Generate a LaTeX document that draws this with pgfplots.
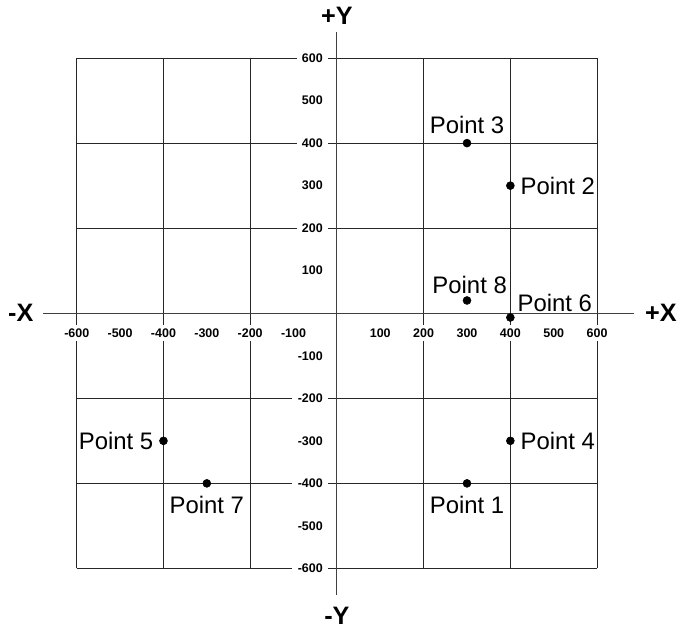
\documentclass[border=0pt]{standalone}
\usepackage{fontspec}
\setmainfont{Liberation Sans}
\usepackage{pgfplots}
\pgfplotsset{compat=1.18}
\usepackage{pgfplotstable}

\pgfplotstableread[col sep=comma]{
x,y,label
300,-400,Point 1
400,300,Point 2
300,400,Point 3
400,-300,Point 4
-400,-300,Point 5
400,-10,Point 6
-300,-400,Point 7
300,30,Point 8
}\points

\pgfplotsset{
  ptlabel/.style={only marks, mark=none, nodes near coords, point meta=explicit symbolic,
    every node near coord/.append style={inner sep=0pt, font=\fontsize{18}{20}\selectfont, text=black, #1}},
}

\begin{document}
\begin{tikzpicture}
\begin{axis}[
  scale only axis,
  width=392.25pt, height=384.75pt,
  xmin=-600, xmax=600, ymin=-600, ymax=600,
  axis lines=middle,
  axis line style={-, black!75, line width=0.75pt},
  x axis line style={shorten <=-25.5pt, shorten >=-27.8pt},
  y axis line style={shorten <=-20pt, shorten >=-20pt},
  xtick={-600,-500,-400,-300,-200,-100,100,200,300,400,500,600},
  xticklabels={-600,-500,-400,-300,-200,-100,100,200,300,400,500,600},
  ytick={-600,-500,-400,-300,-200,-100,100,200,300,400,500,600},
  yticklabels={-600,-500,-400,-300,-200,-100,100,200,300,400,500,600},
  minor xtick={-600,-400,-200,200,400,600},
  minor ytick={-600,-400,-200,200,400,600},
  grid=minor,
  minor grid style={black!85, line width=0.6pt},
  major tick length=0pt, minor tick length=0pt,
  ticklabel style={font=\bfseries\fontsize{9.4}{10}\selectfont, fill=white, inner xsep=4pt, inner ysep=2.5pt},
  xticklabel style={anchor=north, yshift=-9pt},
  yticklabel style={anchor=east, xshift=-6.5pt},
  clip=false,
]
\addplot[only marks, mark=*, mark size=3pt, black] table[x=x, y=y] {\points};

% labels beside the points
\addplot[ptlabel={anchor=north, yshift=-9.75pt}] coordinates {(300,-400)[Point 1] (-300,-400)[Point 7]};
\addplot[ptlabel={anchor=west, xshift=7.5pt}] coordinates {(400,300)[Point 2] (400,-300)[Point 4]};
\addplot[ptlabel={anchor=east, xshift=-7.5pt}] coordinates {(-400,-300)[Point 5]};
\addplot[ptlabel={anchor=base, yshift=7pt}] coordinates {(300,400)[Point 3]};
\addplot[ptlabel={anchor=base, xshift=2pt, yshift=5.5pt}] coordinates {(300,30)[Point 8]};
\addplot[ptlabel={anchor=base west, xshift=5.25pt, yshift=4.7pt}] coordinates {(400,-10)[Point 6]};

\node[font=\bfseries\fontsize{19}{20}\selectfont] at (axis cs:-729,0) {-X};
\node[font=\bfseries\fontsize{19}{20}\selectfont] at (axis cs:747,0) {+X};
\node[font=\bfseries\fontsize{19}{20}\selectfont] at (axis cs:0,699) {+Y};
\node[font=\bfseries\fontsize{19}{20}\selectfont] at (axis cs:0,-712) {-Y};
\path (axis cs:-777,736.5) rectangle (axis cs:786,-746);
\end{axis}
\end{tikzpicture}
\end{document}
